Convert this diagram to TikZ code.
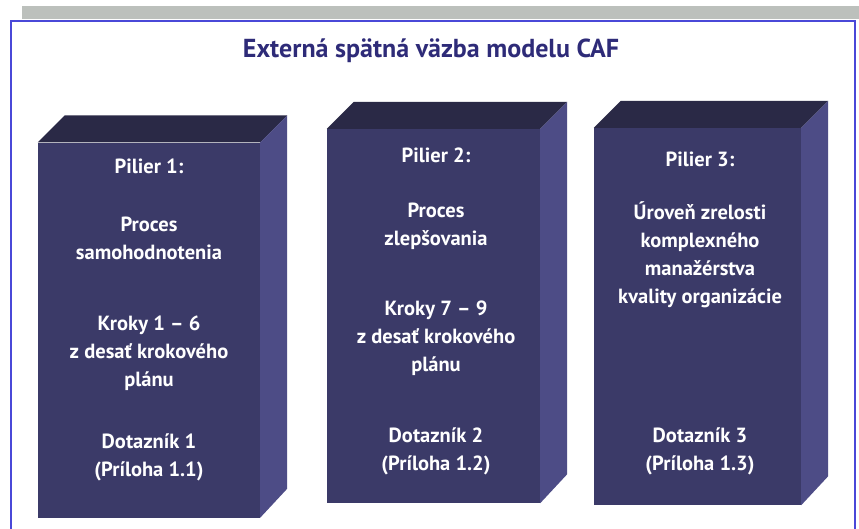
\documentclass[tikz,border=0pt]{standalone}
\usepackage{fontspec}
\setmainfont{PT Sans}
\usetikzlibrary{positioning,calc}
\definecolor{Frame}{HTML}{4A48D8}
\definecolor{Band}{HTML}{BCC0BC}
\definecolor{Title}{HTML}{2E2B78}
\definecolor{Front}{HTML}{3B3A68}
\definecolor{Roof}{HTML}{2A2946}
\definecolor{Side}{HTML}{4D4C86}
\tikzset{
  pillarfront/.style={fill=Front, inner sep=0pt},
  pillartext/.style={text=white, font=\bfseries\fontsize{20.5}{28}\selectfont, align=center},
}
% front face as a named node, roof and side hung on its corners
\newcommand{\pillar}[5]{
  \node[pillarfront, minimum width=#3pt, minimum height=#4pt] (#5) at (#1,#2) {};
  \fill[Roof] (#5.north west) -- ++(27,-27) -- ($(#5.north east)+(27,-27)$) -- (#5.north east) -- cycle;
  \fill[Side] (#5.north east) -- ++(27,-27) -- ($(#5.south east)+(27,-29)$) -- (#5.south east) -- cycle;
}

\begin{document}
\begin{tikzpicture}[x=1pt,y=-1pt]
        \useasboundingbox (0,0) rectangle (859,528);
        \fill[white] (0,0) rectangle (859,528);
        \fill[Band] (22,6) rectangle (859,19);
        \draw[Frame, line width=1.6pt] (11,540) -- (11,21) -- (855,21) -- (855,540);
        \node[text=Title, font=\bfseries\fontsize{26}{30}\selectfont] (title) at (431,51) {Externá spätná väzba modelu CAF};
        \pillar{149}{330}{222}{375}{p1}
        \pillar{433.5}{316}{213}{374}{p2}
        \pillar{697.5}{316.5}{207}{377}{p3}
        % pillar 1
        \node[pillartext] (p1head) at (149,166) {Pilier 1:};
        \node[pillartext] (p1proc) at (149,238) {Proces\\samohodnotenia};
        \node[pillartext] (p1steps) at (149,353) {Kroky 1 – 6\\z desať krokového\\plánu};
        \node[pillartext] (p1form) at (149,457) {Dotazník 1\\(Príloha 1.1)};
        % pillar 2
        \node[pillartext] (p2head) at (436,155) {Pilier 2:};
        \node[pillartext] (p2proc) at (436,226) {Proces\\zlepšovania};
        \node[pillartext] (p2steps) at (436,338) {Kroky 7 – 9\\z desať krokového\\plánu};
        \node[pillartext] (p2form) at (436,451) {Dotazník 2\\(Príloha 1.2)};
        % pillar 3
        \node[pillartext] (p3head) at (700,159) {Pilier 3:};
        \node[pillartext] (p3text) at (700,255) {Úroveň zrelosti\\komplexného\\manažérstva\\kvality organizácie};
        \node[pillartext] (p3form) at (700,451) {Dotazník 3\\(Príloha 1.3)};
      \end{tikzpicture}
\end{document}
